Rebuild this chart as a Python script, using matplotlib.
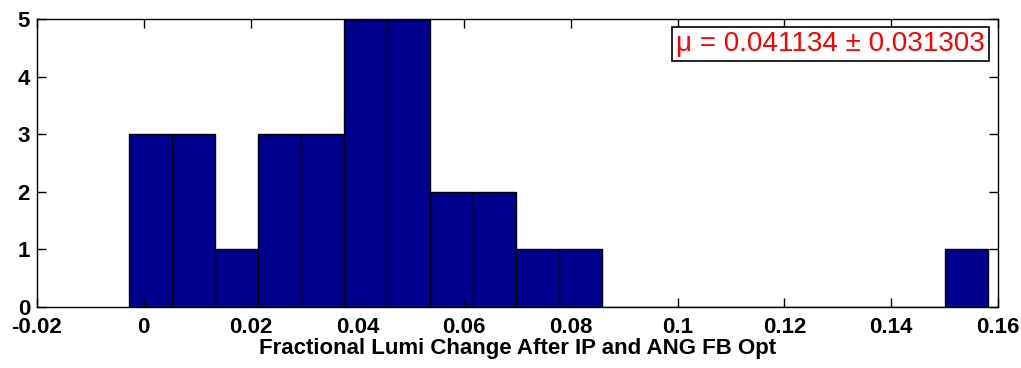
import numpy as np
import matplotlib.pyplot as plt

# Histogram of fractional lumi change (20 bins)
bin_lo = -0.0027
bin_hi = 0.1582
counts = [3, 3, 1, 3, 3, 5, 5, 2, 2, 1, 1, 0, 0, 0, 0, 0, 0, 0, 0, 1]
mean_val = 0.041134
std_val = 0.031303
xticks = [-0.02, 0, 0.02, 0.04, 0.06, 0.08, 0.1, 0.12, 0.14, 0.16]
xtick_labels = ['-0.02', '0', '0.02', '0.04', '0.06', '0.08', '0.1', '0.12', '0.14', '0.16']
yticks = [0, 1, 2, 3, 4, 5]

plt.rcParams['font.family'] = ['Liberation Sans', 'DejaVu Sans']

fig = plt.figure(figsize=(10.21, 3.68), dpi=100)
ax = fig.add_axes([0.0362, 0.1658, 0.9413, 0.7826])

edges = np.linspace(bin_lo, bin_hi, len(counts) + 1)
ax.bar(edges[:-1], counts, width=np.diff(edges), align='edge',
       color='#00008f', edgecolor='black', linewidth=1.0)

ax.set_xlim(-0.02, 0.16)
ax.set_ylim(0, 5)
ax.set_xticks(xticks)
ax.set_xticklabels(xtick_labels)
ax.set_yticks(yticks)
ax.tick_params(direction='in', length=6.5, width=1, top=True, right=True,
               labelsize=16)
ax.tick_params(axis='x', pad=7.5)
ax.tick_params(axis='y', pad=5)
for lab in ax.get_xticklabels() + ax.get_yticklabels():
    lab.set_fontweight('bold')
for sp in ax.spines.values():
    sp.set_linewidth(1)

ax.set_xlabel('Fractional Lumi Change After IP and ANG FB Opt',
              fontsize=16, fontweight='bold', labelpad=0)

ax.text(0.9865, 0.958, f'\u03bc = {mean_val:.6f} \u00b1 {std_val:.6f}',
        transform=ax.transAxes, ha='right', va='top', color='red', fontsize=20,
        bbox=dict(boxstyle='square,pad=0.15', facecolor='white', edgecolor='black', linewidth=1.2))

fig.savefig('out.png', dpi=100)
